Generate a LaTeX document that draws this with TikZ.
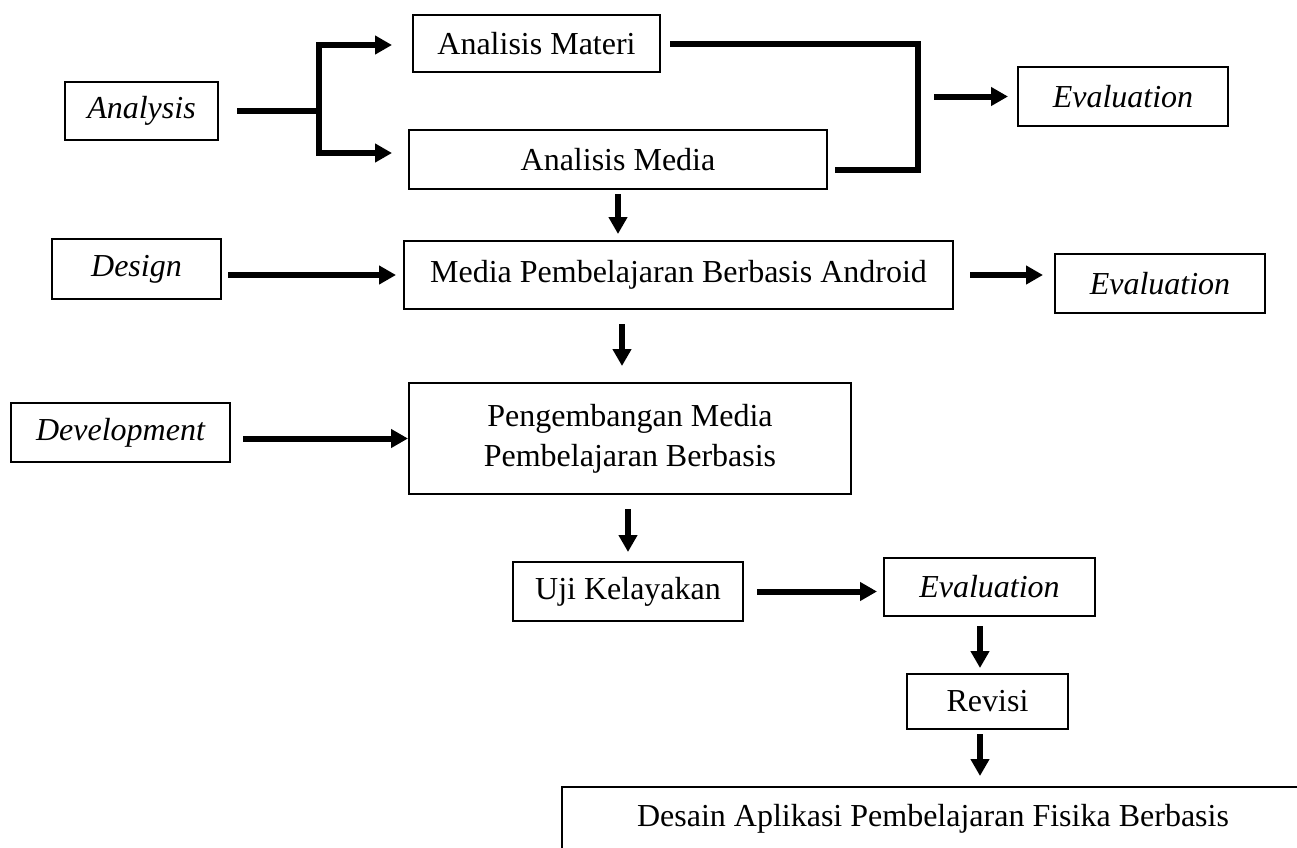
\documentclass[tikz,border=0pt]{standalone}
\usepackage{fontspec}
\setmainfont{Liberation Serif}
\usetikzlibrary{arrows.meta,calc}
\begin{document}
\begin{tikzpicture}[x=0.5pt,y=-0.5pt,
  box/.style={draw, line width=1pt, inner sep=0pt, align=center, font=\fontsize{16}{20}\selectfont},
  ibox/.style={box, font=\fontsize{16}{20}\selectfont\itshape},
  arr/.style={line width=3pt, -{Triangle[width=9pt,length=8.5pt]}},
  bar/.style={line width=3pt, line join=miter}]
\useasboundingbox (0,0) rectangle (1297,847);
\clip (0,0) rectangle (1297,847);

% nodes
\node[ibox, minimum width=76.5pt, minimum height=29pt] (analysis) at (141.5,111) {Analysis};
\node[box, minimum width=123.5pt, minimum height=28.5pt] (materi) at (536.5,43.5) {Analisis Materi};
\node[box, minimum width=209pt, minimum height=29.5pt] (amedia) at (618,159.5) {Analisis Media};
\node[ibox, minimum width=105pt, minimum height=29.5pt] (eval1) at (1123,96.5) {Evaluation};
\node[ibox, minimum width=84.5pt, minimum height=30pt] (design) at (136.5,269) {Design};
\node[box, minimum width=274.5pt, minimum height=34pt] (android) at (678.5,275) {Media Pembelajaran Berbasis Android};
\node[ibox, minimum width=105pt, minimum height=29.5pt] (eval2) at (1160,283.5) {Evaluation};
\node[ibox, minimum width=109.5pt, minimum height=29.5pt] (devel) at (120.5,432.5) {Development};
\node[box, minimum width=221pt, minimum height=55.5pt] (peng) at (630,438.5) {Pengembangan Media\\Pembelajaran Berbasis};
\node[box, minimum width=115pt, minimum height=29.5pt] (uji) at (628,591.5) {Uji Kelayakan};
\node[ibox, minimum width=105.5pt, minimum height=29pt] (eval3) at (989.5,587) {Evaluation};
\node[box, minimum width=80.5pt, minimum height=27.5pt] (revisi) at (987.5,701.5) {Revisi};
\node[box, anchor=north west, minimum width=371pt, text height=19.5pt, text depth=40pt] (desain) at (561,786) {Desain Aplikasi Pembelajaran Fisika Berbasis};

% helper coordinates
\coordinate (j) at (319,112);
\coordinate (bt) at (319,45);
\coordinate (bb) at (319,153);
\coordinate (rt) at (918,43.5);
\coordinate (rb) at (918,170);
\coordinate (e1s) at (934,96.5);
\coordinate (ap) at (622,0);
\coordinate (er) at (980,0);

% analysis branch
\draw[bar, shorten <=9pt] (analysis.east) -- (j |- analysis.east);
\draw[line width=3pt, line join=miter,
      {Triangle[width=9pt,length=8.5pt]}-{Triangle[width=9pt,length=8.5pt]},
      shorten <=10pt, shorten >=8pt]
  (bt -| materi.west) -- (bt) -- (bb) -- (bb -| amedia.west);

% right bracket
\draw[bar, shorten <=4.5pt, shorten >=3.5pt] (materi.east) -- (rt) -- (rb) -- (rb -| amedia.east);
\draw[arr, shorten >=4.5pt] (e1s) -- (eval1.west);

% design row
\draw[arr, shorten <=3pt, shorten >=3.5pt] (design.east |- android.west) -- (android.west);
\draw[arr, shorten <=2pt, shorten >=3pt] (amedia.south) -- (amedia.south |- android.north);
\draw[arr, shorten <=8pt, shorten >=5.5pt] (android.east) -- (android.east -| eval2.west);

% development row
\draw[arr, shorten <=7pt, shorten >=8pt] (ap |- android.south) -- (ap |- peng.north);
\draw[arr, shorten <=6pt] (devel.east |- peng.west) -- (peng.west);
\draw[arr, shorten <=7pt, shorten >=4.5pt] (peng.south -| uji.north) -- (uji.north);

% lower part
\draw[arr, shorten <=6.5pt, shorten >=3pt] (uji.east) -- (uji.east -| eval3.west);
\draw[arr, shorten <=4.5pt, shorten >=2.5pt] (er |- eval3.south) -- (er |- revisi.north);
\draw[arr, shorten <=2pt, shorten >=5pt] (er |- revisi.south) -- (er |- desain.north);
\end{tikzpicture}
\end{document}
